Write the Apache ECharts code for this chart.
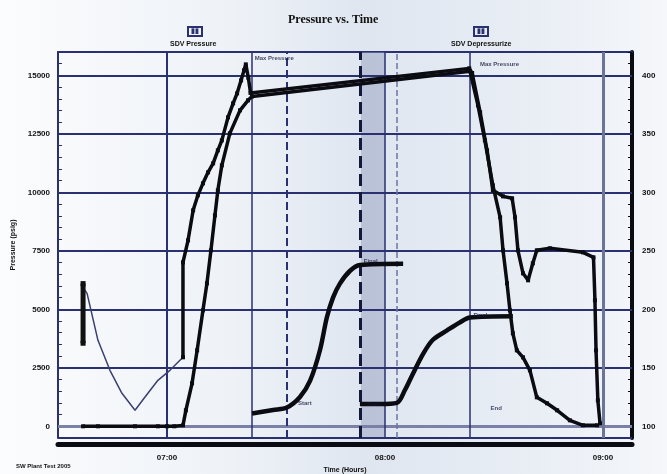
<!DOCTYPE html>
<html><head><meta charset="utf-8">
<script src="https://cdn.jsdelivr.net/npm/echarts@6/dist/echarts.min.js"></script>
<style>html,body{margin:0;padding:0;background:#fff}#c{width:667px;height:474px}</style>
</head><body><div id="c"></div>
<script>
// ---- data ----
const timeTicks = [420, 480, 540];
const timeTickLabels = ['07:00', '08:00', '09:00'];
const pressureTicks = [0, 2500, 5000, 7500, 10000, 12500, 15000];
const tempTicks = [100, 150, 200, 250, 300, 350, 400];

// gauge check spike
const spikeTime = [396.9, 396.9];
const spikePsi = [3550, 6100];
// pre-test bleed (thin line)
const preTime = [397.4, 398.0, 401.0, 404.3, 407.6, 411.2, 413.9, 417.5, 420.8, 424.4];
const prePsi = [5813, 5684, 3676, 2393, 1410, 684, 1239, 1966, 2393, 2949];
// pressure gauge 1
const p1Time = [424.4, 424.4, 425.8, 427.2, 428.5, 429.9, 431.3, 432.7, 434.0, 435.1, 436.8, 438.2, 439.3, 440.4, 441.2, 441.7, 442.4, 443.0, 503.2, 504.0, 506.2, 508.1, 509.7, 512.5, 515.0, 515.8, 516.6, 518.0, 519.4, 520.7, 521.8, 525.4, 534.5, 537.4, 537.8, 538.1, 538.6, 539.2];
const p1Psi = [2949, 7009, 7950, 9232, 9873, 10386, 10856, 11241, 11796, 12224, 13207, 13805, 14232, 14788, 15215, 15472, 14900, 14250, 15300, 15100, 13420, 11796, 10087, 9830, 9745, 8933, 7522, 6539, 6240, 6967, 7522, 7608, 7437, 7223, 5385, 3248, 1111, 128];
// pressure gauge 2
const p2Time = [396.9, 401.0, 411.2, 417.5, 420.0, 422.0, 424.4, 425.2, 426.9, 428.3, 429.9, 431.0, 432.1, 433.2, 434.0, 435.1, 437.3, 440.1, 442.3, 443.4, 503.4, 505.6, 507.5, 509.7, 511.7, 512.5, 513.6, 514.4, 515.2, 516.3, 518.0, 519.9, 521.8, 524.6, 527.4, 530.9, 534.5, 538.4];
const p2Psi = [0, 0, 0, 0, 0, 0, 40, 684, 1838, 3248, 4958, 6112, 7522, 9018, 10087, 11155, 12523, 13506, 13933, 14100, 15180, 13720, 12224, 10300, 8933, 7522, 6112, 4958, 3975, 3248, 2949, 2393, 1239, 983, 684, 256, 43, 43];
// temperature traces (right axis)
const t1Time = [443.4, 449.2, 453.0, 456.6, 459.4, 462.1, 464.0, 465.7, 467.6, 470.4, 473.1, 485.0];
const t1Temp = [111, 114, 116, 125, 139, 165, 193, 210, 222, 233, 238, 239];
const t2Time = [473.1, 478.6, 483.3, 485.5, 487.7, 490.5, 493.2, 497.1, 500.7, 503.4, 515.2];
const t2Temp = [119, 119, 120, 131, 145, 162, 174, 182, 189, 193, 194];

// vertical event lines and shaded interval
const eventTimes = [420, 443.4, 453.0, 473.1, 480, 483.3, 503.4, 540];
const bandTimes = [473.4, 480];

// in-plot annotations
const annoTime = [443.6, 505.6, 455.5, 473.6, 474.5, 508.5, 503.8];
const annoPsi = [15730, 15470, 980, 7050, 960, 770, 4750];
const annoText = ['Max Pressure', 'Max Pressure', 'Start', 'Final', 'Start', 'End', 'Final'];

// ---- chart ----
const navy = '#2a3070';
const zip = (a, b) => a.map((v, i) => [v, b[i]]);
const eventStyles = [
  {color: navy, width: 2, type: 'solid'},
  {color: navy, width: 1.5, type: 'solid'},
  {color: navy, width: 2, type: 'dashed'},
  {color: '#15183a', width: 3, type: 'dashed'},
  {color: navy, width: 1.5, type: 'solid'},
  {color: '#6d76a0', width: 1.5, type: 'dashed'},
  {color: navy, width: 1.5, type: 'solid'},
  {color: '#6b7499', width: 3, type: 'solid'}
];
const chart = echarts.init(document.getElementById('c'));
const sans = 'Liberation Sans';
chart.setOption({
  animation: false,
  backgroundColor: {type: 'linear', x: 0, y: 0, x2: 1, y2: 0, colorStops: [
    {offset: 0, color: '#fbfcfd'}, {offset: 0.35, color: '#eef2f7'},
    {offset: 0.55, color: '#dfe6f0'}, {offset: 0.8, color: '#e9eef5'}, {offset: 1, color: '#f5f7fa'}]},
  title: [
    {text: 'Pressure vs. Time', left: 283, top: 9,
     textStyle: {fontFamily: 'Liberation Serif', fontWeight: 'bold', fontSize: 12, color: '#111'}},
    {text: '▮▮', left: 188, top: 27, padding: [0, 3], borderColor: navy, borderWidth: 2,
     textStyle: {fontSize: 7, color: navy, lineHeight: 9}},
    {text: 'SDV Pressure', left: 170, top: 41, padding: 0,
     textStyle: {fontFamily: sans, fontWeight: 'bold', fontSize: 7, color: '#111'}},
    {text: '▮▮', left: 474, top: 27, padding: [0, 3], borderColor: navy, borderWidth: 2,
     textStyle: {fontSize: 7, color: navy, lineHeight: 9}},
    {text: 'SDV Depressurize', left: 451, top: 41, padding: 0,
     textStyle: {fontFamily: sans, fontWeight: 'bold', fontSize: 7, color: '#111'}},
    {text: 'SW Plant Test 2005', left: 16, top: 463, padding: 0,
     textStyle: {fontFamily: sans, fontWeight: 'bold', fontSize: 6, color: '#111'}}
  ],
  grid: {left: 58, right: 35, top: 52, bottom: 36, containLabel: false, outerBoundsMode: 'none'},
  xAxis: [{
    type: 'value', min: 390, max: 548, interval: 30, position: 'bottom', offset: 6,
    name: 'Time (Hours)', nameLocation: 'middle', nameGap: 22,
    nameTextStyle: {fontFamily: sans, fontWeight: 'bold', fontSize: 7, color: '#111'},
    axisLine: {show: true, onZero: false, lineStyle: {color: '#0b0b14', width: 5}},
    axisTick: {show: false},
    axisLabel: {margin: 10, fontFamily: sans, fontWeight: 'bold', fontSize: 8, color: '#111',
      formatter: v => { const i = timeTicks.indexOf(v); return i >= 0 ? timeTickLabels[i] : ''; }},
    splitLine: {show: false}
  }, {
    type: 'value', min: 390, max: 548, interval: 30, position: 'top',
    axisLine: {show: true, onZero: false, lineStyle: {color: navy, width: 2}},
    axisTick: {show: false}, axisLabel: {show: false}, splitLine: {show: false}
  }],
  yAxis: [{
    type: 'value', min: -500, max: 16000, interval: 500, position: 'left',
    name: 'Pressure (psig)', nameLocation: 'middle', nameGap: 38, nameRotate: 90,
    nameTextStyle: {fontFamily: sans, fontWeight: 'bold', fontSize: 7, color: '#111'},
    axisLine: {show: true, onZero: false, lineStyle: {color: navy, width: 2}},
    axisTick: {show: true, inside: true, length: 4, lineStyle: {color: navy, width: 1}},
    axisLabel: {margin: 8, fontFamily: sans, fontWeight: 'bold', fontSize: 8, color: '#111',
      formatter: v => pressureTicks.indexOf(v) >= 0 ? String(v) : ''},
    splitLine: {show: false}
  }, {
    type: 'value', min: 90, max: 420, interval: 10, position: 'right',
    axisLine: {show: true, onZero: false, lineStyle: {color: '#0b0b14', width: 4}},
    axisTick: {show: true, inside: true, length: 4, lineStyle: {color: '#0b0b14', width: 1}},
    axisLabel: {margin: 10, fontFamily: sans, fontWeight: 'bold', fontSize: 8, color: '#111',
      formatter: v => tempTicks.indexOf(v) >= 0 ? String(v) : ''},
    splitLine: {show: false}
  }],
  series: [
    {name: 'grid', type: 'line', z: 1, silent: true, symbol: 'none', data: [[390, -500]],
     lineStyle: {width: 0},
     markArea: {z: 1, silent: true, itemStyle: {color: 'rgba(140,150,185,0.45)'},
       data: [[{xAxis: bandTimes[0]}, {xAxis: bandTimes[1]}]]},
     markLine: {z: 1, silent: true, symbol: ['none', 'none'], label: {show: false}, animation: false,
       data: pressureTicks.map(v => ({yAxis: v, lineStyle: v === 0
         ? {color: '#7a80a6', width: 3, type: 'solid'} : {color: navy, width: 2, type: 'solid'}}))
         .concat([{yAxis: -500, lineStyle: {color: navy, width: 2, type: 'solid'}}])
         .concat(eventTimes.map((t, i) => ({xAxis: t, lineStyle: eventStyles[i]})))}
    },
    {name: 'Gauge check', type: 'line', z: 4, symbol: 'rect', symbolSize: 5,
     data: zip(spikeTime, spikePsi), itemStyle: {color: '#111'}, lineStyle: {color: '#111', width: 5}},
    {name: 'Pre-test', type: 'line', z: 3, symbol: 'none', data: zip(preTime, prePsi),
     lineStyle: {color: '#3a3f70', width: 1.5}},
    {name: 'Pressure 1', type: 'line', z: 4, symbol: 'rect', symbolSize: 4, data: zip(p1Time, p1Psi),
     itemStyle: {color: '#0b0b12'}, lineStyle: {color: '#0b0b12', width: 3.5}},
    {name: 'Pressure 2', type: 'line', z: 4, symbol: 'rect', symbolSize: 4, data: zip(p2Time, p2Psi),
     itemStyle: {color: '#0b0b12'}, lineStyle: {color: '#0b0b12', width: 3.5}},
    {name: 'Temperature 1', type: 'line', yAxisIndex: 1, z: 4, symbol: 'none', smooth: 0.3,
     data: zip(t1Time, t1Temp), lineStyle: {color: '#0b0b12', width: 4.5}},
    {name: 'Temperature 2', type: 'line', yAxisIndex: 1, z: 4, symbol: 'none', smooth: 0.3,
     data: zip(t2Time, t2Temp), lineStyle: {color: '#0b0b12', width: 4.5}},
    {name: 'Notes', type: 'scatter', z: 5, symbolSize: 0, silent: true,
     data: annoTime.map((t, i) => ({value: [t, annoPsi[i]], label: {formatter: annoText[i]}})),
     label: {show: true, position: 'right', distance: 2, fontFamily: sans, fontWeight: 'bold',
       fontSize: 6, color: '#15183a'}}
  ]
});
</script></body></html>
